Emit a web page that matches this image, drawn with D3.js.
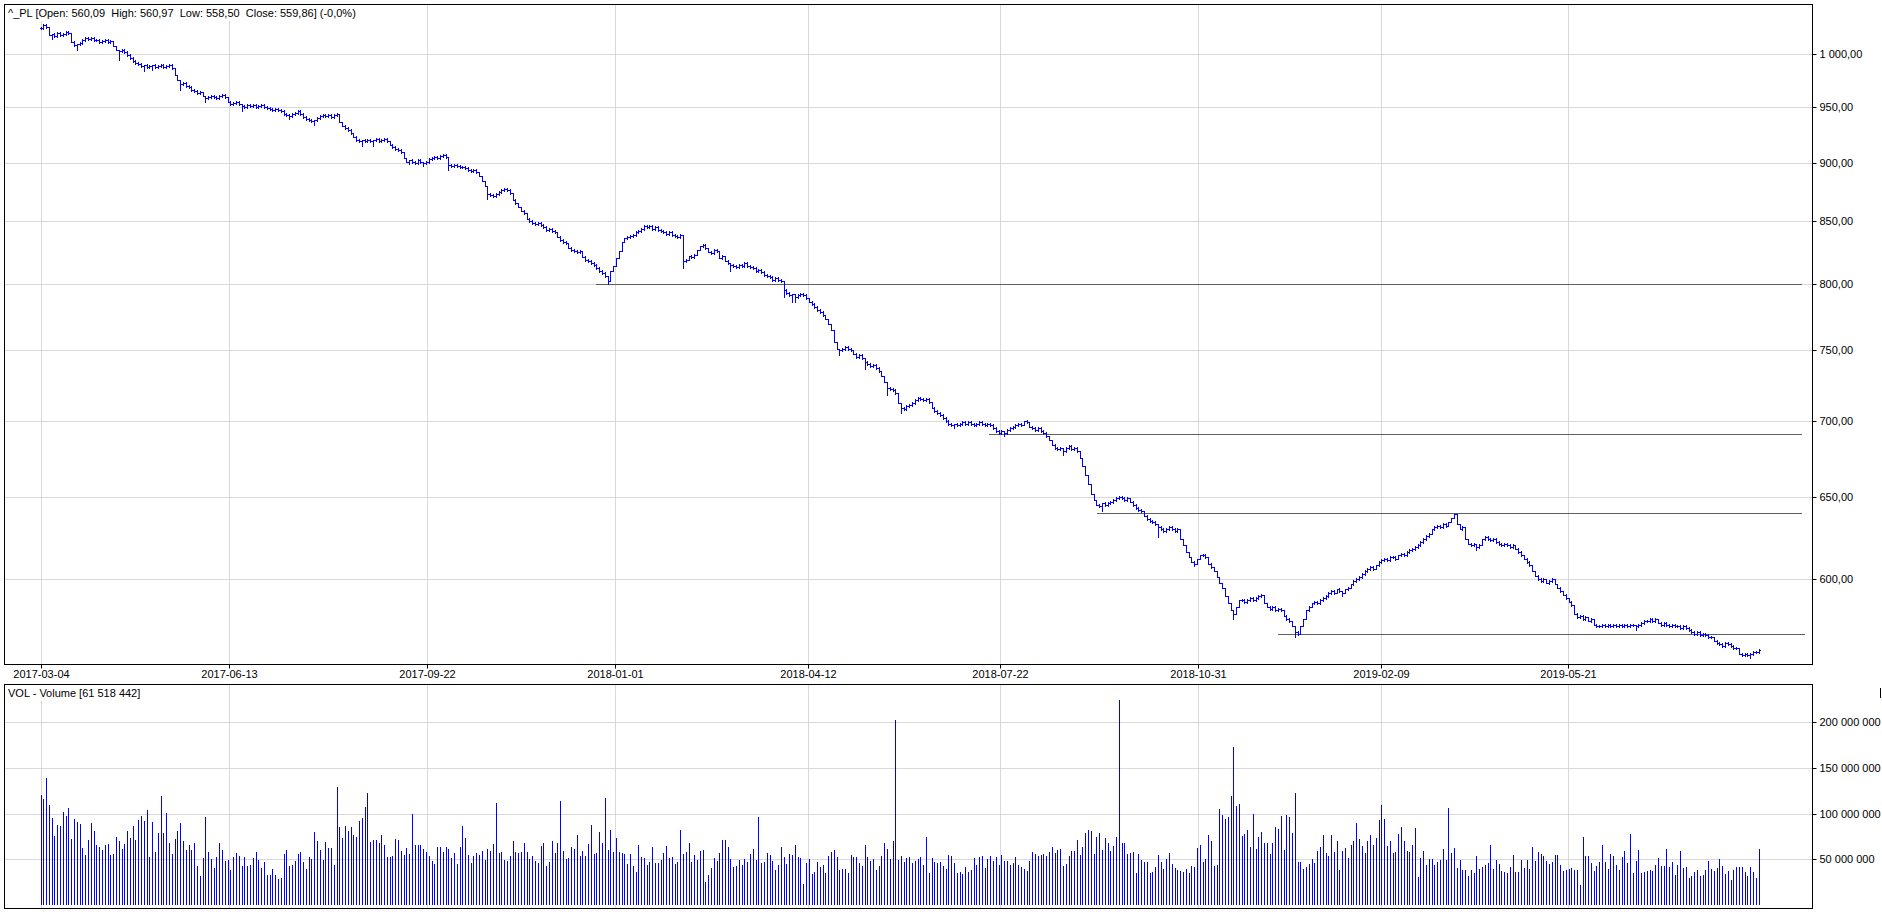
<!DOCTYPE html>
<html><head><meta charset="utf-8">
<script src="https://cdn.jsdelivr.net/npm/d3@7"></script>
<style>
body{margin:0;background:#fff;}
svg{display:block;}
text{font-family:"Liberation Sans",Arial,sans-serif;font-size:11px;fill:#000;}
</style>
</head><body>
<svg id="c" width="1882" height="912"></svg>
<script>
// ---------- DATA ----------
const header = "^_PL [Open: 560,09  High: 560,97  Low: 558,50  Close: 559,86] (-0,0%)";
const volTitle = "VOL - Volume [61 518 442]";

const closes = [
1026,1029,1027,1019,1020,1018,1021,1019,1020,1022,
1021,1012,1009,1010,1011,1014,1016,1015,1016,1014,
1014,1012,1013,1014,1012,1013,1008,1004,1003,1004,
1002,999,997,994,992,991,989,990,988,989,
990,988,989,990,988,989,990,987,980,975,
972,973,970,969,966,965,963,964,960,958,
959,960,959,958,960,961,959,955,953,954,
955,953,951,950,952,951,952,950,951,952,
950,949,948,947,948,947,946,944,943,942,
944,945,946,944,941,939,938,937,938,940,
942,943,942,943,941,943,944,936,933,931,
929,926,923,920,919,920,919,920,919,920,
921,919,920,921,919,916,914,912,911,909,
904,901,902,901,900,902,901,900,901,903,
904,905,904,906,907,905,898,897,898,897,
896,896,895,894,893,894,892,888,884,880,
873,872,871,873,875,876,877,876,874,868,
865,862,859,857,852,850,849,848,849,847,
845,843,844,842,841,837,835,833,832,828,
827,826,825,826,821,819,818,816,815,812,
810,808,806,802,810,814,820,826,833,836,
837,838,839,841,842,844,846,845,846,844,
845,843,842,841,840,841,839,838,837,839,
818,819,822,821,823,827,830,831,828,825,
824,827,826,820,822,818,816,815,814,813,
815,814,816,814,813,812,810,811,809,807,
806,805,803,804,803,802,795,793,791,792,
790,791,792,791,789,786,784,782,780,778,
776,773,769,765,756,751,750,751,752,751,
750,747,745,746,744,741,740,738,739,737,
735,731,727,723,722,721,719,712,709,708,
710,711,712,714,716,715,714,715,713,709,
707,705,704,702,700,698,697,698,697,698,
699,698,699,698,697,698,699,698,697,698,
697,695,693,692,693,692,694,695,696,697,
698,697,700,699,696,695,694,695,693,692,
690,687,684,682,681,682,680,682,683,681,
682,680,675,670,664,658,652,648,645,644,
646,645,646,647,648,649,650,649,648,649,
647,645,643,642,641,638,636,635,634,633,
631,630,629,630,631,630,629,630,624,620,
616,613,610,609,612,614,614,613,609,607,
605,601,598,595,590,586,582,580,584,588,
588,587,588,589,588,589,590,591,586,584,
583,584,582,583,582,579,577,576,573,570,
569,573,577,582,584,586,587,586,588,589,
590,592,593,592,594,593,592,594,595,597,
599,600,601,603,605,606,607,606,608,610,
611,612,611,613,613,612,614,615,614,616,
617,618,619,620,622,624,626,627,630,631,
632,631,633,632,634,637,639,633,630,631,
624,621,620,621,619,620,624,625,624,623,
624,622,621,620,621,620,619,620,618,616,
614,612,610,608,605,602,600,599,600,598,
599,600,597,595,593,591,589,587,585,580,
578,579,577,578,576,577,574,573,573,574,
573,574,573,574,573,574,573,574,573,574,
574,573,574,575,576,576,577,576,577,575,
574,575,574,573,574,573,573,572,573,572,
571,570,569,570,568,569,568,567,567,565,
564,563,562,564,563,562,561,561,558,557,
558,557,558,559,559,559.86
];

// notable lower wicks: [bar index, low]
const lowWicks = [
[4,1015],[13,1004],[28,995],[37,984],[40,985],[50,966],[59,955],[72,946],[89,940],[98,934],
[115,915],[119,915],[132,899],[137,897],[146,894],[160,869],[172,862],[203,800],
[230,812],[247,810],[266,790],[269,786],[270,786],[286,746],[295,736],[303,718],[308,705],
[327,695],[345,690],[366,677],[380,641],[400,625],[413,608],[427,577],[449,567],[466,590],
[514,617],[571,571],[612,556]
];

// volume in millions of shares
const volumeM = [
121,116,139,109,95,75.5,87.6,86.5,102,97,
106,72,94,91,89,62,55,71,90,81,
66,63.5,60,66,67,55,56,74.5,70,61,
67,81,73,86.5,71,93,97,92,104,52.5,
91,58,79,119,79,101,68,56,72,81,
90,70,60,66,60,68,43,32,51.5,96,
58,50,40.5,52.5,68,60,48,49,38,52.5,
57,53.6,43,52.5,43,44,51.5,58,49,40.5,
47,33,33,39,33,28.5,29.5,56,60,43,
44,48,56,58,47,39,52.5,50,80,70,
60,49,69,62,62,44,129,85,73,86.5,
81,85,77,74.5,92,95,107,122.6,69,71,
71,68,77,66,52.5,52.5,53.6,72,71,59,
55,62,56,99.6,66,66,66,61,58,53.6,
48,45,63.5,63.5,58,63.5,61,51.5,57,45,
63.5,86.5,73,55,46,53.6,57,55,59,49,
61,59,67,112,57,58,49,48,53.6,70,
58,57,58,68,58,50,53.6,48,46,64.6,
68,43,47,70,57,68,114,59,50,51.5,
63.5,61,77,53.6,59,53.6,67,87.6,56,57,
80,68,117,60,82,58,73,
58,57,56,45,56,43,36,66,52.5,51.5,
44,47,63.5,46,46,49,57,64.6,51.5,52.5,
45,47,82,56,58,68,47,55,49,59,
60,25,33,40.5,51.5,48,57,71,71,63.5,
50,41.6,43,49,44,50,47,56,61,49,
96,46,47,57,55,48,38,44,63.5,52.5,
45,56,55,66,52.5,51.5,23,46,50,34,
36,47,41.6,44,35,53.6,58,60,52.5,38,
39,39,35,55,52.5,52.5,46,43,66,52.5,
48,50,38,43,53.6,68,61,50,70,202.5,
49,53.6,47,51.5,52.5,46,48,50,52.5,44,
74.5,35,51.5,47,46,47,43,39,55,53.6,
46,35,36,34,41.6,36,38,51.5,44,52.5,
53.6,40.5,50,53.6,48,52.5,44,55,48,48,
44,46,52.5,44,41.6,39,37,48,58,56,
53.6,55,56,53.6,58,63.5,57,60,61,43,
45,53.6,59,59,71,55,63.5,79,82,81,
56,74.5,79,60,73,68,59,64.6,74.5,224.5,
68,68,56,57,58,35,56,49,47,47,
35,36,41.6,55,47,39,50,57,45,40.5,
38,37,36,39,35,43,41.6,62,
65.7,47,50,76.6,70,43,44,105,98.5,94,
96,119,173,108,110.6,75.5,77.7,82,63.5,99.6,
61,74.5,80,68,68,56,68,85,83,97,
60,98.5,96,79,122.6,47,47,39,41.6,45,
50,46,59,63.5,76.6,57,53.6,76.6,58,70,
38,59,62,51.5,65.7,70,90,72,64.6,57,
70,76.6,65.7,73,93,109.5,94,64.6,70,57,
58,77.7,85,70,59,58,65.7,84,30.7,51.5,
59,44,50,50,44,47,49,61,49,106,
57,62,40.5,49,38,38,31.8,38,35,53.6,
39,41.6,44,46,65.7,39,49,45,37,36,
35,41.6,55,36,36,49,40.5,49,39,63.5,
48,58,56,53.6,48,45,47,55,55,44,
37,38,39,40.5,38,38,22,74.5,53.6,53.6,
46,37,43,47,65.7,47,39,56,53.6,44,
38,52.5,59,46,77.7,35,48,60,35,36,
37,38,37,44,51.5,43,43,61,41.6,47,
33,44,59,40.5,41.6,29.5,31.8,36,38,31.8,
33,38,48,39,37,40.5,50,43,34,37,
27.4,38,41.6,41.6,41.6,36,31.8,41.6,36,29.5,
61.5
];

const dateLabels = ["2017-03-04","2017-06-13","2017-09-22","2018-01-01","2018-04-12","2018-07-22","2018-10-31","2019-02-09","2019-05-21"];
const dateTickIdx = [0.3, 67.6, 138.5, 205.7, 274.9, 343.6, 414.5, 479.7, 546.9];
const priceTicks = [600, 650, 700, 750, 800, 850, 900, 950, 1000];
const volumeTicksM = [50, 100, 150, 200];
const supportLevels = [800, 691, 640, 568.5];
const supportStartIdx = [198.7, 339.6, 378.2, 443];
const supportEndIdx = [630.6, 630.6, 630.6, 631.6];

// ---------- LAYOUT ----------
const L = 4.5, R = 1812.5;
const pTop = 4.5, pBot = 664.5;
const vTop = 684.5, vBot = 908.5;

const svg = d3.select("#c");
const px = v => Math.round(v) + 0.5;

const x = d3.scaleLinear().domain([0, closes.length - 1]).range([40.5, 1758.5]);
const yP = d3.scaleLog().domain([552.4, 1049.3]).range([664, 5]);
const yV = d3.scaleLinear().domain([0, 242]).range([905, 684]);

const loc = d3.formatLocale({decimal: ",", thousands: " ", grouping: [3], currency: ["", ""]});
const fPrice = loc.format(",.2f");
const fVol = loc.format(",.0f");

const GRID = "#d9d9d9";

// gridlines price
const gP = svg.append("g");
gP.selectAll("line.h").data(priceTicks).join("line")
  .attr("x1", L).attr("x2", R)
  .attr("y1", d => px(yP(d))).attr("y2", d => px(yP(d)))
  .attr("stroke", GRID);
gP.selectAll("line.v").data(dateTickIdx).join("line")
  .attr("x1", d => px(x(d))).attr("x2", d => px(x(d)))
  .attr("y1", pTop).attr("y2", pBot)
  .attr("stroke", GRID);

// gridlines volume
const gV = svg.append("g");
gV.selectAll("line.h").data(volumeTicksM).join("line")
  .attr("x1", L).attr("x2", R)
  .attr("y1", d => px(yV(d))).attr("y2", d => px(yV(d)))
  .attr("stroke", GRID);
gV.selectAll("line.v").data(dateTickIdx).join("line")
  .attr("x1", d => px(x(d))).attr("x2", d => px(x(d)))
  .attr("y1", vTop).attr("y2", vBot)
  .attr("stroke", GRID);

// support lines
svg.append("g").selectAll("line").data(supportLevels).join("line")
  .attr("x1", (d, i) => Math.round(x(supportStartIdx[i]))).attr("x2", (d, i) => Math.round(x(supportEndIdx[i])))
  .attr("y1", d => px(yP(d))).attr("y2", d => px(yP(d)))
  .attr("stroke", "#5f5f5f").attr("stroke-width", 1);

// OHLC bars
const lowMap = new Map(lowWicks.map(d => [d[0], d[1]]));
const bars = closes.map((c, i) => {
  const o = i > 0 ? closes[i - 1] : c;
  let lo = Math.min(o, c), hi = Math.max(o, c);
  if (lowMap.has(i)) lo = Math.min(lo, lowMap.get(i));
  return {i, o, c, lo, hi};
});
svg.append("g").selectAll("path").data(bars).join("path")
  .attr("d", d => {
    const xc = Math.round(x(d.i)) + 0.5;
    let yh = Math.round(yP(d.hi)), yl = Math.round(yP(d.lo));
    if (yl - yh < 4) { yh -= 1; yl += 1; }
    const yo = Math.round(yP(d.o)) + 0.5, yc = Math.round(yP(d.c)) + 0.5;
    return `M${xc},${yh}V${yl + 1}M${xc - 1.5},${yo}H${xc}M${xc},${yc}H${xc + 1.5}`;
  })
  .attr("fill", "none").attr("stroke", "#0000ff").attr("stroke-width", 1)
  .attr("shape-rendering", "crispEdges");

// volume bars
svg.append("g").selectAll("line").data(volumeM).join("line")
  .attr("x1", (d, i) => Math.round(x(i)) + 0.5).attr("x2", (d, i) => Math.round(x(i)) + 0.5)
  .attr("y1", yV(0)).attr("y2", d => Math.round(yV(d)))
  .attr("stroke", "#0000ff").attr("stroke-width", 1)
  .attr("shape-rendering", "crispEdges");

// title boxes
svg.append("rect").attr("x", 5).attr("y", 5).attr("width", 347).attr("height", 16).attr("fill", "#fff");
svg.append("text").attr("x", 8).attr("y", 17).style("white-space", "pre").text(header);
svg.append("rect").attr("x", 5).attr("y", 685).attr("width", 136).attr("height", 16).attr("fill", "#fff");
svg.append("text").attr("x", 8).attr("y", 697).style("white-space", "pre").text(volTitle);

// panel borders
svg.append("rect").attr("x", L).attr("y", pTop).attr("width", R - L).attr("height", pBot - pTop)
  .attr("fill", "none").attr("stroke", "#000");
svg.append("rect").attr("x", L).attr("y", vTop).attr("width", R - L).attr("height", vBot - vTop)
  .attr("fill", "none").attr("stroke", "#000");

// axes
const aP = svg.append("g").attr("transform", `translate(${R},0)`)
  .call(d3.axisRight(yP).tickValues(priceTicks).tickFormat(fPrice).tickSize(4).tickPadding(3));
aP.select(".domain").remove();
aP.selectAll(".tick").attr("transform", d => `translate(0,${px(yP(d))})`);
aP.selectAll("text").attr("font-family", null).attr("font-size", null);

const aV = svg.append("g").attr("transform", `translate(${R},0)`)
  .call(d3.axisRight(yV).tickValues(volumeTicksM).tickFormat(d => fVol(d * 1e6)).tickSize(4).tickPadding(3));
aV.select(".domain").remove();
aV.selectAll(".tick").attr("transform", d => `translate(0,${px(yV(d))})`);
aV.selectAll("text").attr("font-family", null).attr("font-size", null);

const aX = svg.append("g").attr("transform", `translate(0,${pBot})`)
  .call(d3.axisBottom(x).tickValues(dateTickIdx).tickFormat((d, i) => dateLabels[i]).tickSize(4).tickPadding(2));
aX.select(".domain").remove();
aX.selectAll(".tick").attr("transform", d => `translate(${px(x(d))},0)`);
aX.selectAll("text").attr("font-family", null).attr("font-size", null);

// small clipped mark at the far right
svg.append("line").attr("x1", 1880.5).attr("x2", 1880.5).attr("y1", 688).attr("y2", 698).attr("stroke", "#000");
</script>
</body></html>
